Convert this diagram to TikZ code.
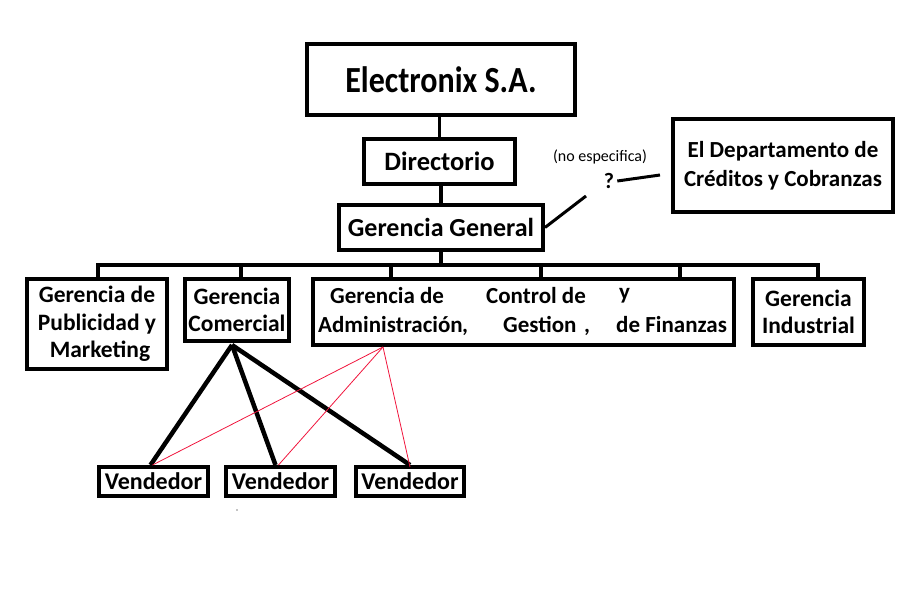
\documentclass[tikz,border=0pt]{standalone}
\usepackage{graphicx}
\usepackage{fontspec}
\setmainfont{Carlito}
\begin{document}
\begin{tikzpicture}[x=1pt,y=-1pt,
  box/.style={draw=black,line width=4pt,inner sep=0pt,align=center},
  conn/.style={line width=3.5pt},
  heavy/.style={line width=4.5pt},
  redline/.style={draw={rgb,255:red,240;green,20;blue,60},line width=0.8pt},
  rowtxt/.style={font=\fontsize{23.5}{27.5}\selectfont\bfseries},
  vtxt/.style={font=\fontsize{24}{28}\selectfont\bfseries},
  lbl/.style={inner sep=0pt,anchor=base west,font=\fontsize{23}{27.5}\selectfont\bfseries}]
\useasboundingbox (0,0) rectangle (900,600);
% top boxes
\node[box,minimum width=268pt,minimum height=71pt] (ele) at (441,79.5)
  {\scalebox{1}[1.15]{\fontsize{32}{36}\selectfont\bfseries Electronix S.A.}};
\node[box,minimum width=151pt,minimum height=45pt,font=\fontsize{26.5}{30}\selectfont\bfseries] (dir) at (439.5,161.5) {Directorio};
\node[box,minimum width=204pt,minimum height=45pt,font=\fontsize{26}{30}\selectfont\bfseries] (gg) at (441,227.5) {Gerencia General};
\node[box,minimum width=220pt,minimum height=93pt,font=\fontsize{23}{29}\selectfont\bfseries] (dep) at (783,165.5) {El Departamento de\\Créditos y Cobranzas};
% question mark annotation
\node[inner sep=0pt,font=\fontsize{16}{18}\selectfont] (ne) at (600,157) {(no especifica)};
\node[inner sep=0pt,font=\fontsize{22}{24}\selectfont\bfseries] (q) at (609,181) {?};
\coordinate (qa) at (586,196);
\coordinate (qb) at (660,175);
\draw[line width=3pt] (gg.east) -- (qa);
\draw[line width=3pt] ([xshift=3pt]q.east) -- (qb);
% second row boxes
\node[box,rowtxt,minimum width=140pt,minimum height=90pt] (pub) at (97,324) {Gerencia de\\Publicidad y\\\hspace*{6pt}Marketing};
\node[box,rowtxt,minimum width=104pt,minimum height=62pt] (com) at (237,310) {Gerencia\\Comercial};
\node[box,minimum width=421pt,minimum height=66pt] (big) at (523.5,312) {};
\node[box,rowtxt,minimum width=111pt,minimum height=66pt] (ind) at (808.5,312) {Gerencia\\Industrial};
% texts inside the big box
\node[lbl] (t1) at (330,303) {Gerencia de};
\node[lbl] (t2) at (318,332) {Administración};
\node[lbl] (t2c) at (462,332) {,};
\node[lbl] (t3) at (486,303) {Control de};
\node[lbl] (t4) at (503,332) {Gestion};
\node[lbl] (t4c) at (584,332) {,};
\node[lbl] (t5) at (619,299) {y};
\node[lbl] (t6) at (616,332) {de Finanzas};
% vendedores
\node[box,vtxt,minimum width=109pt,minimum height=29pt] (v1) at (153.5,481.5) {Vendedor};
\node[box,vtxt,minimum width=109pt,minimum height=29pt] (v2) at (280.5,481.5) {Vendedor};
\node[box,vtxt,minimum width=108pt,minimum height=29pt] (v3) at (410,481.5) {Vendedor};
\fill (237,510) circle (0.7pt);
% hierarchy connectors
\draw[conn] (dir.north) -- (dir.north |- ele.south);
\draw[conn] (gg.north) -- (gg.north |- dir.south);
\coordinate (bus) at (441,265);
\coordinate (b1) at (98,265);
\coordinate (b2) at (241,265);
\coordinate (b3) at (391,265);
\coordinate (b4) at (541,265);
\coordinate (b5) at (680,265);
\coordinate (b6) at (818,265);
\draw[conn] (gg.south) -- (bus);
\draw[conn] ([xshift=-1.75pt]b1) -- ([xshift=1.75pt]b6);
\draw[conn] (b1) -- (b1 |- pub.north);
\draw[conn] (b2) -- (b2 |- com.north);
\draw[conn] (b3) -- (b3 |- big.north);
\draw[conn] (b4) -- (b4 |- big.north);
\draw[conn] (b5) -- (b5 |- big.north);
\draw[conn] (b6) -- (b6 |- ind.north);
% comercial to vendedores
\coordinate (cs) at (232,345);
\draw[heavy] (cs) -- ([xshift=-3pt]v1.north);
\draw[heavy] (cs) -- ([xshift=-5pt]v2.north);
\draw[heavy] (cs) -- (v3.north);
% red lines from administracion
\coordinate (rs) at (383,347);
\draw[redline] (rs) -- ([xshift=-1pt]v1.north);
\draw[redline] (rs) -- ([xshift=-2pt]v2.north);
\draw[redline] (rs) -- ([yshift=-2pt]v3.north);
\end{tikzpicture}
\end{document}
